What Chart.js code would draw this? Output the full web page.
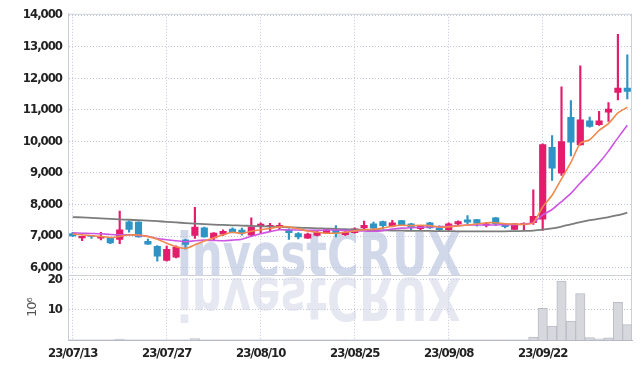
<!DOCTYPE html>
<html>
<head>
<meta charset="utf-8">
<script src="https://cdn.jsdelivr.net/npm/chart.js@4"></script>
<style>
  html, body { margin: 0; padding: 0; background: #fff; }
  #chart { display: block; }
</style>
</head>
<body>
<canvas id="chart" width="642" height="369"></canvas>
<script>
// ---------------------------
// Data
// ---------------------------
const dates = [
  "23/07/13","23/07/14","23/07/17","23/07/18","23/07/19","23/07/20","23/07/21","23/07/24","23/07/25","23/07/26",
  "23/07/27","23/07/28","23/07/31","23/08/01","23/08/02","23/08/03","23/08/04","23/08/07","23/08/08","23/08/09",
  "23/08/10","23/08/11","23/08/14","23/08/16","23/08/17","23/08/18","23/08/21","23/08/22","23/08/23","23/08/24",
  "23/08/25","23/08/28","23/08/29","23/08/30","23/08/31","23/09/01","23/09/04","23/09/05","23/09/06","23/09/07",
  "23/09/08","23/09/11","23/09/12","23/09/13","23/09/14","23/09/15","23/09/18","23/09/19","23/09/20","23/09/21",
  "23/09/22","23/09/25","23/09/26","23/09/27","23/10/04","23/10/05","23/10/06","23/10/10","23/10/11","23/10/12"
];

const opens = [
  7080, 6940, 7010, 6930, 6950, 6890, 7450, 7440, 6830, 6670,
  6230, 6330, 6880, 7020, 7260, 6940, 7060, 7220, 7190, 7030,
  7300, 7310, 7290, 7200, 7080, 6930, 7020, 7090, 7180, 7040,
  7110, 7260, 7390, 7460, 7310, 7490, 7390, 7230, 7420, 7260,
  7200, 7380, 7510, 7520, 7340, 7580, 7360, 7210, 7370, 7420,
  7530, 9810, 8990, 10760, 9890, 10650, 10530, 10920, 11550, 11690
];
const highs = [
  7120, 7000, 7020, 7120, 6960, 7790, 7470, 7450, 6900, 6700,
  6680, 6690, 6900, 7910, 7280, 7110, 7200, 7260, 7250, 7580,
  7420, 7400, 7410, 7230, 7110, 7090, 7150, 7220, 7330, 7140,
  7260, 7470, 7440, 7470, 7500, 7500, 7400, 7340, 7430, 7320,
  7420, 7480, 7650, 7530, 7430, 7590, 7400, 7400, 7420, 8460,
  9920, 10180, 11730, 11290, 12390, 10770, 10950, 11230, 13390, 12740
];
const lows = [
  6980, 6850, 6920, 6880, 6760, 6760, 7120, 6960, 6730, 6200,
  6200, 6310, 6580, 6920, 6960, 6880, 7010, 7100, 7030, 7000,
  7110, 7150, 7200, 6890, 6910, 6920, 7000, 7080, 6970, 7020,
  7090, 7230, 7230, 7220, 7290, 7340, 7200, 7200, 7240, 7140,
  7140, 7340, 7390, 7310, 7290, 7330, 7260, 7200, 7200, 7370,
  7180, 8760, 8920, 9540, 9880, 10450, 10500, 10630, 11310, 11340
];
const closes = [
  7000, 6990, 6990, 6990, 6780, 7200, 7210, 6970, 6740, 6360,
  6580, 6650, 6730, 7280, 6970, 7090, 7150, 7140, 7090, 7280,
  7380, 7340, 7340, 7110, 6970, 7060, 7120, 7200, 7110, 7120,
  7230, 7340, 7250, 7330, 7420, 7360, 7280, 7310, 7260, 7200,
  7390, 7460, 7440, 7410, 7390, 7390, 7300, 7390, 7400, 7620,
  9900, 9150, 9990, 9970, 10680, 10470, 10650, 11020, 11690, 11580
];

// moving averages as drawn (orange short, violet mid, grey long)
const maShort = [
  7060, 7040, 7010, 6990, 6950, 6990, 7030, 7030, 6980, 6900,
  6770, 6660, 6610, 6720, 6840, 6940, 7040, 7120, 7080, 7150,
  7200, 7240, 7290, 7290, 7230, 7160, 7120, 7090, 7090, 7120,
  7160, 7200, 7210, 7250, 7310, 7340, 7330, 7340, 7330, 7280,
  7290, 7320, 7350, 7380, 7420, 7420, 7390, 7380, 7370, 7420,
  7920, 8290, 8810, 9330, 9940, 10050, 10350, 10560, 10900, 11080
];
const maMid = [
  7100, 7090, 7080, 7070, 7050, 7040, 7040, 7020, 6990, 6920,
  6880, 6850, 6820, 6850, 6870, 6860, 6850, 6870, 6900, 6990,
  7070, 7140, 7200, 7190, 7190, 7180, 7180, 7190, 7190, 7180,
  7160, 7160, 7150, 7170, 7220, 7250, 7260, 7280, 7290, 7300,
  7310, 7330, 7350, 7350, 7350, 7350, 7360, 7360, 7380, 7420,
  7670, 7840, 8090, 8350, 8680, 8990, 9320, 9690, 10110, 10510
];
const maLong = [
  7600, 7590, 7575, 7560, 7545, 7530, 7515, 7500, 7485, 7470,
  7450, 7430, 7410, 7390, 7375, 7360, 7350, 7340, 7330, 7320,
  7310, 7300, 7290, 7275, 7265, 7255, 7245, 7235, 7225, 7215,
  7205, 7195, 7185, 7180, 7175, 7170, 7165, 7160, 7160, 7155,
  7155, 7150, 7150, 7150, 7150, 7150, 7150, 7155, 7160, 7170,
  7200, 7240, 7300, 7370, 7440, 7500, 7550, 7600, 7660, 7740
];

// volume, in millions of shares
const volumes = [
  0.05, 0.05, 0.05, 0.05, 0.05, 0.3, 0.05, 0.05, 0.05, 0.05,
  0.05, 0.05, 0.05, 0.5, 0.05, 0.05, 0.05, 0.05, 0.05, 0.05,
  0.05, 0.05, 0.05, 0.05, 0.05, 0.05, 0.05, 0.05, 0.05, 0.05,
  0.05, 0.05, 0.05, 0.05, 0.05, 0.05, 0.05, 0.05, 0.05, 0.05,
  0.05, 0.05, 0.05, 0.05, 0.05, 0.05, 0.05, 0.05, 0.05, 1.0,
  10.5, 4.6, 19.5, 6.3, 15.4, 0.8, 0.4, 0.7, 12.5, 5.1
];

const priceTicks = [6000, 7000, 8000, 9000, 10000, 11000, 12000, 13000, 14000];
const volumeTicks = [10, 20];

// ---------------------------
// Styles
// ---------------------------
const UP = "#e31c6c";
const DOWN = "#2e94c6";
const GRID = "#c3c7d8";
const TICK_FONT = { family: '"DejaVu Sans Condensed", "DejaVu Sans", sans-serif', size: 13, weight: "bold" };
const candleColor = closes.map((c, i) => c >= opens[i] ? UP : DOWN);

// tighter lettering for the condensed-looking tick labels
const tightText = {
    id: "tightText",
    beforeUpdate(chart) { chart.ctx.letterSpacing = "-1px"; },
    beforeDraw(chart) { chart.ctx.letterSpacing = "-1px"; }
};

// watermark + panel frame
const framePlugin = {
    id: "frame",
    beforeDatasetsDraw(chart) {
        const ctx = chart.ctx;
        const area = chart.chartArea;
        const yPrice = chart.scales.y;

        ctx.save();
        ctx.letterSpacing = "0px";
        ctx.font = 'bold 60px "DejaVu Sans", sans-serif';
        const text = "investCRUX";
        const w = ctx.measureText(text).width;
        const sx = 284 / w;
        const baseY = 275;
        ctx.translate(177, baseY);
        ctx.scale(sx, 0.98);
        ctx.fillStyle = "rgba(190,199,224,0.7)";
        ctx.fillText(text, 0, 0);
        // reflection
        ctx.scale(1, -1);
        ctx.translate(0, -3);
        const g = ctx.createLinearGradient(0, 0, 0, 48);
        g.addColorStop(0, "rgba(208,213,230,0.55)");
        g.addColorStop(1, "rgba(208,213,230,0.12)");
        ctx.fillStyle = g;
        ctx.fillText(text, 0, 0);
        ctx.restore();

        ctx.save();
        ctx.strokeStyle = "#cfd1da";
        ctx.lineWidth = 1;
        ctx.beginPath();
        ctx.moveTo(area.left, area.top + 0.5);
        ctx.lineTo(area.right, area.top + 0.5);
        ctx.moveTo(area.right - 0.5, area.top);
        ctx.lineTo(area.right - 0.5, area.bottom);
        ctx.moveTo(area.left, Math.round(yPrice.bottom) + 0.5);
        ctx.lineTo(area.right, Math.round(yPrice.bottom) + 0.5);
        ctx.stroke();
        ctx.restore();
    }
};

// ---------------------------
// Chart
// ---------------------------
const ctx = document.getElementById("chart").getContext("2d");

new Chart(ctx, {
    data: {
        labels: dates,
        datasets: [
            {
                type: "line", label: "MA5", data: maShort, yAxisID: "y",
                borderColor: "#f0894c", borderWidth: 1.6, pointRadius: 0, tension: 0.2, order: 0
            },
            {
                type: "line", label: "MA10", data: maMid, yAxisID: "y",
                borderColor: "#cc55e2", borderWidth: 1.6, pointRadius: 0, tension: 0.2, order: 0
            },
            {
                type: "line", label: "MA60", data: maLong, yAxisID: "y",
                borderColor: "#7c7c7c", borderWidth: 1.8, pointRadius: 0, tension: 0.2, order: 0
            },
            {
                type: "bar", label: "body", yAxisID: "y", grouped: false, order: 1,
                data: opens.map((o, i) => [o, closes[i]]),
                backgroundColor: candleColor, barThickness: 6.5
            },
            {
                type: "bar", label: "wick", yAxisID: "y", grouped: false, order: 2,
                data: lows.map((l, i) => [l, highs[i]]),
                backgroundColor: candleColor, barThickness: 1.5
            },
            {
                type: "bar", label: "volume", yAxisID: "yVol", grouped: false, order: 3,
                data: volumes,
                backgroundColor: "#d6d8de", borderColor: "#b9bcc5", borderWidth: 1,
                categoryPercentage: 1, barPercentage: 1
            }
        ]
    },
    options: {
        responsive: false,
        animation: false,
        layout: { padding: { top: 13, right: 10, left: 0, bottom: 0 } },
        plugins: { legend: { display: false }, tooltip: { enabled: false } },
        scales: {
            x: {
                type: "category",
                offset: true,
                grid: {
                    offset: false, drawTicks: false, lineWidth: 1,
                    color: c => (c.index % 10 === 0 ? GRID : "rgba(0,0,0,0)")
                },
                border: { color: "#b7bac6", dash: [1, 2] },
                ticks: {
                    autoSkip: false, maxRotation: 0, minRotation: 0, padding: 6,
                    color: "#222", font: TICK_FONT,
                    callback: (v, i) => (i % 10 === 0 ? dates[i] : "")
                },
                afterFit: s => { s.height = 29; }
            },
            yVol: {
                type: "linear", position: "left", stack: "panels", stackWeight: 65,
                min: 0, max: 21.5,
                grid: { drawTicks: false, color: GRID },
                border: { color: "#c8cbd8", dash: [1, 2] },
                ticks: { padding: 6, color: "#222", font: TICK_FONT },
                title: { display: true, text: "10\u2076", color: "#555", font: { family: '"DejaVu Sans", sans-serif', size: 13 }, padding: { top: 25, bottom: 0 } },
                afterBuildTicks: s => { s.ticks = volumeTicks.map(v => ({ value: v })); },
                afterFit: s => { s.width = 68; }
            },
            y: {
                type: "linear", position: "left", stack: "panels", stackWeight: 262,
                min: 5760, max: 14040,
                grid: { drawTicks: false, color: GRID },
                border: { color: "#c8cbd8", dash: [1, 2] },
                ticks: { padding: 6, color: "#222", font: TICK_FONT, autoSkip: false },
                afterBuildTicks: s => { s.ticks = priceTicks.map(v => ({ value: v })); },
                afterFit: s => { s.width = 68; }
            }
        }
    },
    plugins: [tightText, framePlugin]
});
</script>
</body>
</html>
